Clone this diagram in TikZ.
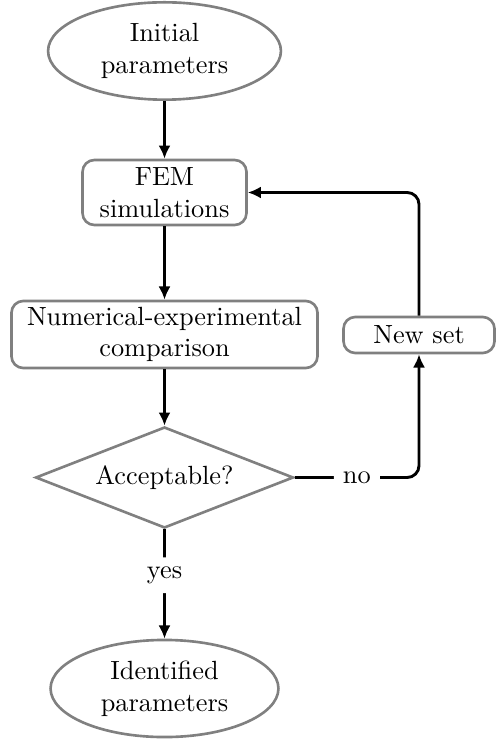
\documentclass[tikz,border=0pt]{standalone}
\usetikzlibrary{shapes.geometric,arrows.meta}
\begin{document}
\begin{tikzpicture}[x=0.38pt,y=-0.38pt,
  base/.style={draw=black!50,line width=1pt,align=center,inner sep=1pt},
  term/.style={base,ellipse},
  proc/.style={base,rectangle,rounded corners=4.5pt},
  dec/.style={base,diamond,aspect=2.55,minimum width=98pt,minimum height=38.4pt,inner sep=0pt},
  conn/.style={line width=1.1pt,-{Latex[length=5pt,width=4.6pt]},rounded corners=4.5pt},
  lbl/.style={fill=white,inner sep=3.5pt}]
\useasboundingbox (0,0) rectangle (496,740);
\node[term,minimum width=88.5pt,minimum height=37pt] (init) at (164.5,51) {Initial\\parameters};
\node[proc,minimum width=62.3pt,minimum height=24.7pt] (fem) at (164.5,192.5) {FEM\\simulations};
\node[proc,minimum width=116.3pt,minimum height=25.5pt] (comp) at (164.5,334.5) {Numerical-experimental\\comparison};
\node[proc,minimum width=57.4pt,minimum height=13.7pt] (new) at (419,335) {New set};
\node[dec] (acc) at (164.5,477.5) {Acceptable?};
\node[term,minimum width=86.6pt,minimum height=36.9pt] (ident) at (164.5,688.5) {Identified\\parameters};
\draw[conn] (init) -- (fem);
\draw[conn] (fem) -- (comp);
\draw[conn] (comp) -- (acc);
\draw[conn] (acc) -- node[lbl,pos=0.42] {yes} (ident);
\draw[conn] (acc.east) -- node[lbl] {no} (acc.east -| new) -- (new.south);
\draw[conn] (new.north) |- (fem.east);
\end{tikzpicture}
\end{document}
